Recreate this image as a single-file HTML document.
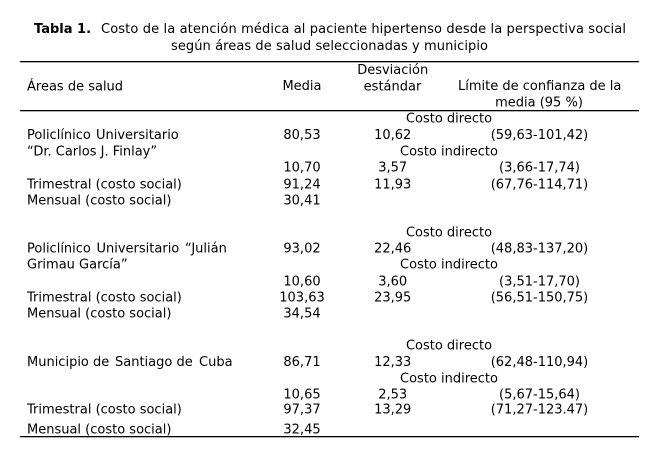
<!DOCTYPE html>
<html>
<head>
<meta charset="utf-8">
<style>
  html, body { margin: 0; padding: 0; background: #fff; }
  svg { display: block; }
  text { font-family: "DejaVu Sans", "Liberation Sans", sans-serif; font-size: 13px; fill: #000; }
  .c { text-anchor: middle; }
  .b { font-weight: bold; }
</style>
</head>
<body>
<svg width="664" height="463" viewBox="0 0 664 463" xmlns="http://www.w3.org/2000/svg">
  <rect x="0" y="0" width="664" height="463" fill="#fff"/>

  <!-- Title -->
  <text class="b" x="34" y="33">Tabla 1.</text>
  <text x="101" y="33" textLength="525" lengthAdjust="spacing">Costo de la atención médica al paciente hipertenso desde la perspectiva social</text>
  <text x="171" y="50" textLength="317" lengthAdjust="spacing">según áreas de salud seleccionadas y municipio</text>

  <!-- Rules -->
  <rect x="20" y="61" width="619" height="1.3" fill="#000"/>
  <rect x="20" y="110" width="619" height="1.3" fill="#000"/>
  <rect x="20" y="436" width="619" height="1.3" fill="#000"/>

  <!-- Header -->
  <text x="27" y="90.7">Áreas de salud</text>
  <text class="c" x="302" y="90">Media</text>
  <text class="c" x="392.7" y="74">Desviación</text>
  <text class="c" x="392.5" y="90.7">estándar</text>
  <text class="c" x="539.7" y="90">Límite de confianza de la</text>
  <text class="c" x="539" y="106.7">media (95 %)</text>

  <!-- Block 1 -->
  <text class="c" x="449" y="122.7">Costo directo</text>
  <text x="27" y="139">Policlínico</text>
  <text x="96" y="139">Universitario</text>
  <text class="c" x="302" y="139">80,53</text>
  <text class="c" x="392.7" y="139">10,62</text>
  <text class="c" x="539.5" y="139">(59,63-101,42)</text>
  <text x="27" y="155.5">“Dr. Carlos J. Finlay”</text>
  <text class="c" x="449" y="155.5">Costo indirecto</text>
  <text class="c" x="302" y="171.7">10,70</text>
  <text class="c" x="392.7" y="171.7">3,57</text>
  <text class="c" x="539.5" y="171.7">(3,66-17,74)</text>
  <text x="27" y="188.3">Trimestral (costo social)</text>
  <text class="c" x="302" y="188.3">91,24</text>
  <text class="c" x="392.7" y="188.3">11,93</text>
  <text class="c" x="539.5" y="188.3">(67,76-114,71)</text>
  <text x="27" y="204.5">Mensual (costo social)</text>
  <text class="c" x="302" y="204.5">30,41</text>

  <!-- Block 2 -->
  <text class="c" x="449" y="236.7">Costo directo</text>
  <text x="27" y="252.5">Policlínico</text>
  <text x="96.5" y="252.5">Universitario</text>
  <text x="185" y="252.5">“Julián</text>
  <text class="c" x="302" y="252.5">93,02</text>
  <text class="c" x="392.7" y="252.5">22,46</text>
  <text class="c" x="539.5" y="252.5">(48,83-137,20)</text>
  <text x="27" y="268.3">Grimau García”</text>
  <text class="c" x="449" y="268.3">Costo indirecto</text>
  <text class="c" x="302" y="285.7">10,60</text>
  <text class="c" x="392.7" y="285.7">3,60</text>
  <text class="c" x="539.5" y="285.7">(3,51-17,70)</text>
  <text x="27" y="301.7">Trimestral (costo social)</text>
  <text class="c" x="302" y="301.7">103,63</text>
  <text class="c" x="392.7" y="301.7">23,95</text>
  <text class="c" x="539.5" y="301.7">(56,51-150,75)</text>
  <text x="27" y="317.3">Mensual (costo social)</text>
  <text class="c" x="302" y="317.3">34,54</text>

  <!-- Block 3 -->
  <text class="c" x="449" y="349.3">Costo directo</text>
  <text x="27" y="366">Municipio</text>
  <text x="93" y="366">de</text>
  <text x="115" y="366">Santiago</text>
  <text x="176.5" y="366">de</text>
  <text x="199" y="366">Cuba</text>
  <text class="c" x="302" y="366">86,71</text>
  <text class="c" x="392.7" y="366">12,33</text>
  <text class="c" x="539.5" y="366">(62,48-110,94)</text>
  <text class="c" x="449" y="382.3">Costo indirecto</text>
  <text class="c" x="302" y="398.3">10,65</text>
  <text class="c" x="392.7" y="398.3">2,53</text>
  <text class="c" x="539.5" y="398.3">(5,67-15,64)</text>
  <text x="27" y="413.3">Trimestral (costo social)</text>
  <text class="c" x="302" y="413.3">97,37</text>
  <text class="c" x="392.7" y="413.3">13,29</text>
  <text class="c" x="539.5" y="413.3">(71,27-123.47)</text>
  <text x="27" y="433.3">Mensual (costo social)</text>
  <text class="c" x="302" y="433.3">32,45</text>
</svg>
</body>
</html>
